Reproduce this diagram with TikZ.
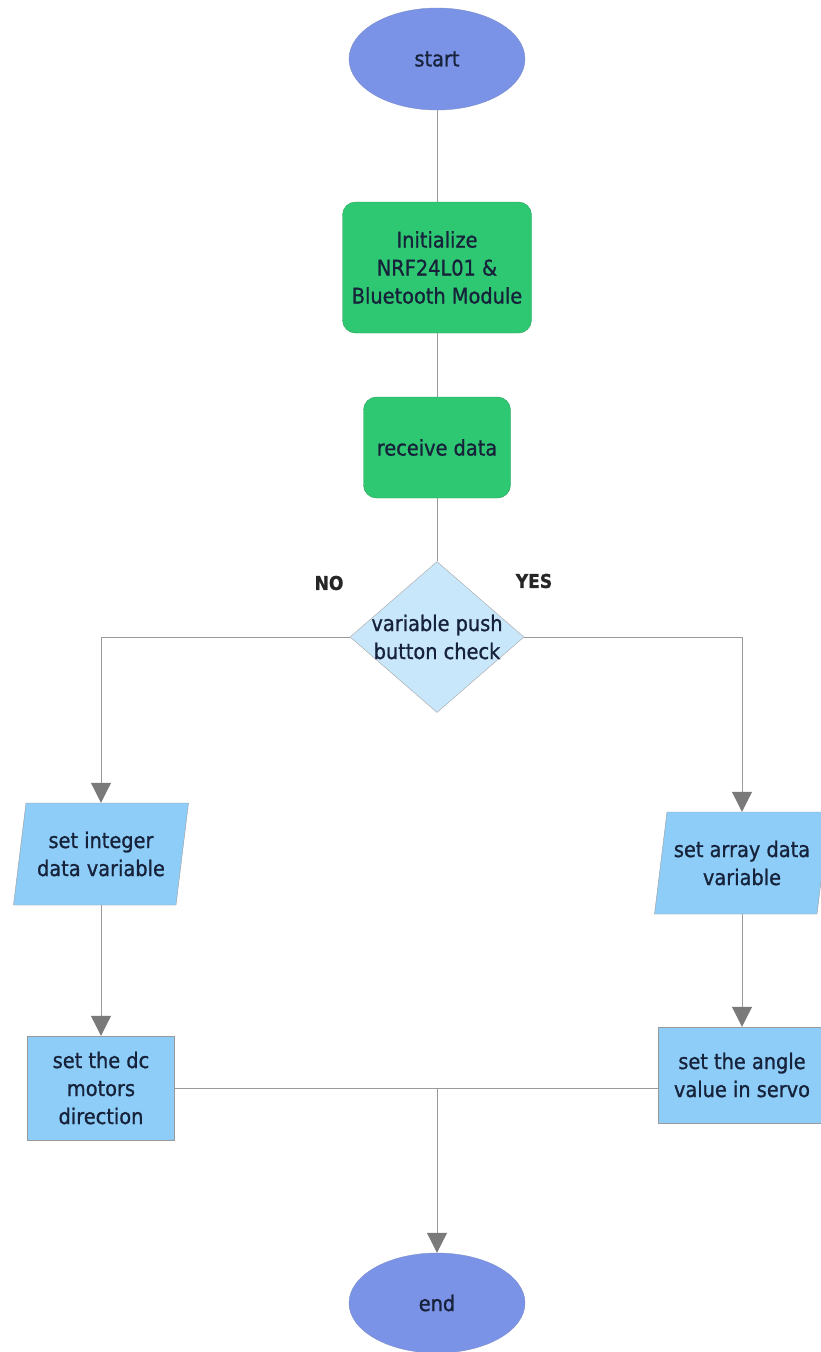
\documentclass[tikz,border=0pt]{standalone}
\usepackage{fontspec}
\setmainfont{DejaVu Sans}[FakeStretch=0.9, FakeBold=1.0]
\usetikzlibrary{shapes.geometric,arrows.meta}
\definecolor{ovalblue}{HTML}{7B93E6}
\definecolor{boxgreen}{HTML}{2FC872}
\definecolor{diamblue}{HTML}{C9E7FA}
\definecolor{iobox}{HTML}{8ECDF8}
\definecolor{linegray}{HTML}{9A9A9A}
\definecolor{tipgray}{HTML}{7A7A7A}
\definecolor{txt}{HTML}{16213A}

\begin{document}
\begin{tikzpicture}[x=1pt, y=-1pt,
        every node/.style={font=\fontsize{21.5}{28}\selectfont, text=txt, align=center},
        oval/.style={ellipse, fill=ovalblue, draw=ovalblue!75!gray, minimum width=176pt, minimum height=102pt, inner sep=0pt},
        proc/.style={rectangle, rounded corners=13pt, fill=boxgreen, draw=boxgreen!80!black, inner sep=1pt},
        decision/.style={diamond, fill=diamblue, draw=gray!70, minimum width=174pt, minimum height=151pt, inner sep=0pt},
        io/.style={trapezium, trapezium left angle=75, trapezium right angle=105, trapezium stretches body,
            fill=iobox, draw=gray!80, minimum width=175pt, minimum height=102pt, inner sep=1pt},
        act/.style={rectangle, fill=iobox, draw=gray!80, inner sep=1pt},
        answer/.style={font=\fontsize{19}{22}\selectfont\bfseries, text=black!85},
        wire/.style={draw=linegray, line width=1pt},
        arr/.style={wire, -{Triangle[width=20pt, length=20pt, color=tipgray]}}]

            \useasboundingbox (0,0) rectangle (821,1352);
            \clip (0,0) rectangle (821,1352);

            \node[oval] (start) at (437,59) {start};
            \node[proc, minimum width=189pt, minimum height=131pt] (init) at (437,267.5) {Initialize\\NRF24L01 \&\\Bluetooth Module};
            \node[proc, minimum width=147pt, minimum height=101pt] (recv) at (437,447.5) {receive data};
            \node[decision, label={center:{variable push\\button check}}] (check) at (437,637) {};
            \node[answer] (no) at (329,583) {NO};
            \node[answer] (yes) at (534,581) {YES};

            \node[io] (intvar) at (101,854) {set integer\\data variable};
            \node[io] (arrvar) at (742,863) {set array data\\variable};
            \node[act, minimum width=147pt, minimum height=104pt] (dcbox) at (101,1088) {set the dc\\motors\\direction};
            \node[act, minimum width=168pt, minimum height=96pt] (servo) at (742,1075) {set the angle\\value in servo};
            \coordinate (join) at (437,1088);
            \node[oval, minimum height=100pt] (stop) at (437,1303) {end};

            \draw[wire] (start) -- (init);
            \draw[wire] (init) -- (recv);
            \draw[wire] (recv) -- (check);
            \draw[arr] (check.west) -| (intvar.center |- intvar.north);
            \draw[arr] (check.east) -| (arrvar.center |- arrvar.north);
            \draw[arr] (intvar.center |- intvar.south) -- (dcbox.north);
            \draw[arr] (arrvar.center |- arrvar.south) -- (servo.north);
            \draw[wire] (dcbox.east) -- (join) -- (servo.west |- join);
            \draw[arr] (join) -- (stop);
        \end{tikzpicture}
\end{document}
